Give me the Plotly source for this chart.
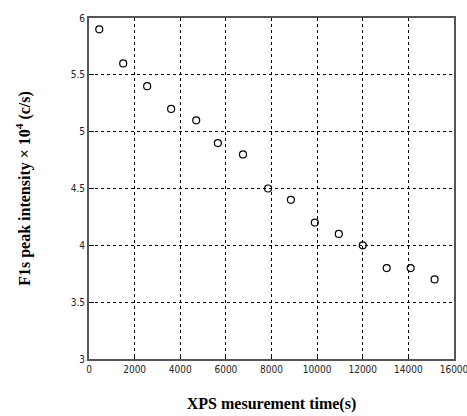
import plotly.graph_objects as go

time_s = [450, 1500, 2550, 3600, 4700, 5650, 6750, 7850, 8850, 9900, 10950, 12000, 13050, 14100, 15150]
intensity = [5.9, 5.6, 5.4, 5.2, 5.1, 4.9, 4.8, 4.5, 4.4, 4.2, 4.1, 4.0, 3.8, 3.8, 3.7]
x_ticks = [0, 2000, 4000, 6000, 8000, 10000, 12000, 14000, 16000]
y_ticks = [3, 3.5, 4, 4.5, 5, 5.5, 6]

fig = go.Figure()
fig.add_trace(go.Scatter(
    x=time_s, y=intensity, mode="markers",
    marker=dict(symbol="circle-open", size=7, color="black", line=dict(width=1.2, color="black")),
    showlegend=False, cliponaxis=False,
))

tickfont = dict(family="DejaVu Sans Condensed, Liberation Sans Narrow, Arial Narrow", size=10, color="#222")
titlefont = dict(family="Liberation Serif, Times New Roman, serif", size=16, color="black")

fig.update_xaxes(
    range=[0, 16000], tickvals=x_ticks, ticktext=[str(v) for v in x_ticks],
    showgrid=True, gridcolor="black", griddash="dot", gridwidth=1,
    showline=True, linecolor="#555", linewidth=2, mirror=True,
    ticks="inside", ticklen=5, tickcolor="black", ticklabeloverflow="allow",
    tickfont=tickfont, zeroline=False, automargin=False,
    title=dict(text="<b>XPS mesurement time(s)</b>", font=titlefont, standoff=24),
)
fig.update_yaxes(
    range=[3, 6], tickvals=y_ticks, ticktext=["3", "3.5", "4", "4.5", "5", "5.5", "6"],
    showgrid=True, gridcolor="black", griddash="dot", gridwidth=1,
    showline=True, linecolor="#555", linewidth=2, mirror=True,
    ticks="inside", ticklen=5, tickcolor="black", ticklabeloverflow="allow",
    tickfont=tickfont, zeroline=False, automargin=False,
    title=dict(text="<b>F1s peak intensity × 10<sup>4</sup> (c/s)</b>", font=titlefont, standoff=36),
)
fig.update_layout(
    width=467, height=416,
    margin=dict(l=89, r=13, t=18, b=57),
    paper_bgcolor="white", plot_bgcolor="white",
)
fig.write_html(
    "out.html",
    config={"displayModeBar": False},
    post_script="document.body.style.margin='0';document.body.style.overflow='hidden';",
)
